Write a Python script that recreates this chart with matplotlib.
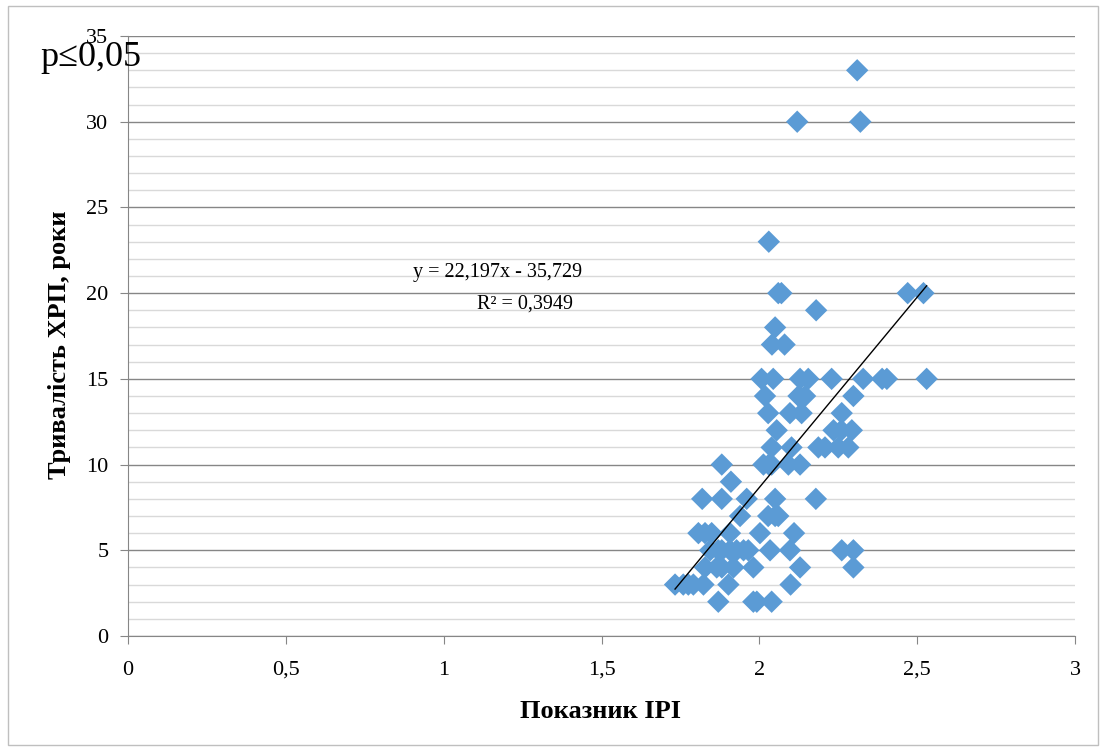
import matplotlib
matplotlib.use("Agg")
import matplotlib.pyplot as plt
from matplotlib.ticker import MultipleLocator, FuncFormatter
from matplotlib.patches import Rectangle

# Data: (IPI, duration years)
ipi = [
    2.31,
    2.12, 2.32,
    2.03,
    2.06, 2.07, 2.47, 2.52,
    2.18,
    2.05,
    2.04, 2.08,
    2.007, 2.044, 2.129, 2.155, 2.229, 2.329, 2.389, 2.404, 2.530,
    2.018, 2.124, 2.145, 2.298,
    2.028, 2.097, 2.134, 2.261,
    2.055, 2.235, 2.26, 2.293,
    2.039, 2.102, 2.187, 2.208, 2.250, 2.282,
    1.881, 2.013, 2.030, 2.039, 2.092, 2.129,
    1.910,
    1.819, 1.881, 1.960, 2.050, 2.179,
    1.939, 2.028, 2.050, 2.060,
    1.807, 1.828, 1.849, 1.907, 2.002, 2.110,
    1.844, 1.870, 1.881, 1.907, 1.928, 1.950, 1.965, 2.034, 2.097, 2.261, 2.298,
    1.828, 1.865, 1.881, 1.918, 1.981, 2.129, 2.298,
    1.733, 1.759, 1.775, 1.791, 1.823, 1.902, 2.099,
    1.870, 1.981, 1.992, 2.039,
]
duration = [
    33,
    30, 30,
    23,
    20, 20, 20, 20,
    19,
    18,
    17, 17,
    15, 15, 15, 15, 15, 15, 15, 15, 15,
    14, 14, 14, 14,
    13, 13, 13, 13,
    12, 12, 12, 12,
    11, 11, 11, 11, 11, 11,
    10, 10, 10, 10, 10, 10,
    9,
    8, 8, 8, 8, 8,
    7, 7, 7, 7,
    6, 6, 6, 6, 6, 6,
    5, 5, 5, 5, 5, 5, 5, 5, 5, 5, 5,
    4, 4, 4, 4, 4, 4, 4,
    3, 3, 3, 3, 3, 3, 3,
    2, 2, 2, 2,
]
slope = 22.197
intercept = -35.729
r2 = 0.3949

xlabel = "Показник IPI"
ylabel = "Тривалість ХРП, роки"

plt.rcParams['font.family'] = ['Liberation Serif', 'DejaVu Serif']

fig = plt.figure(figsize=(11.06, 7.51), dpi=100)
ax = fig.add_axes([128/1106, 1-636/751, (1075-128)/1106, (636-36)/751])

fig.patches.append(Rectangle((8/1106, 1-745/751), (1098-8)/1106, (745-6)/751,
                             transform=fig.transFigure, fill=False,
                             edgecolor='#bfbfbf', linewidth=1.0))

ax.set_xlim(0, 3)
ax.set_ylim(0, 35)
ax.xaxis.set_major_locator(MultipleLocator(0.5))
ax.yaxis.set_major_locator(MultipleLocator(5))
ax.yaxis.set_minor_locator(MultipleLocator(1))
fmt = FuncFormatter(lambda v, p: (f"{v:g}").replace('.', ','))
ax.xaxis.set_major_formatter(fmt)
ax.yaxis.set_major_formatter(fmt)

ax.grid(axis='y', which='minor', color='#d9d9d9', linewidth=1.0)
ax.grid(axis='y', which='major', color='#868686', linewidth=1.0)
ax.set_axisbelow(True)
for s in ['top', 'right']:
    ax.spines[s].set_visible(False)
for s in ['left', 'bottom']:
    ax.spines[s].set_color('#868686')
ax.tick_params(axis='both', which='major', length=6, color='#868686',
               labelsize=16)
ax.tick_params(axis='x', which='major', pad=12)
ax.tick_params(axis='y', which='major', pad=8)
ax.tick_params(axis='y', which='minor', length=0)

ax.scatter(ipi, duration, marker='D', s=130, color='#5b9bd5',
           edgecolors='none', zorder=3)

xs = [min(ipi), max(ipi)]
ax.plot(xs, [slope * v + intercept for v in xs], color='black',
        linewidth=1.0, zorder=4)

ax.text(498/1106, 1-272/751,
        f"y = {slope:.3f}x - {abs(intercept):.3f}".replace('.', ','),
        transform=fig.transFigure, ha='center', va='center', fontsize=14.5)
ax.text(525/1106, 1-304/751, f"R² = {r2:.4f}".replace('.', ','),
        transform=fig.transFigure, ha='center', va='center', fontsize=14.5)

fig.text(40/1106, 1-58/751, "p≤0,05", ha='left', va='center', fontsize=26)

fig.text(601/1106, 1-712/751, xlabel, ha='center', va='center',
         fontsize=19, fontweight='bold')
fig.text(60/1106, 1-345/751, ylabel, ha='center', va='center',
         rotation=90, fontsize=19, fontweight='bold')

fig.savefig("out.png", dpi=100)
